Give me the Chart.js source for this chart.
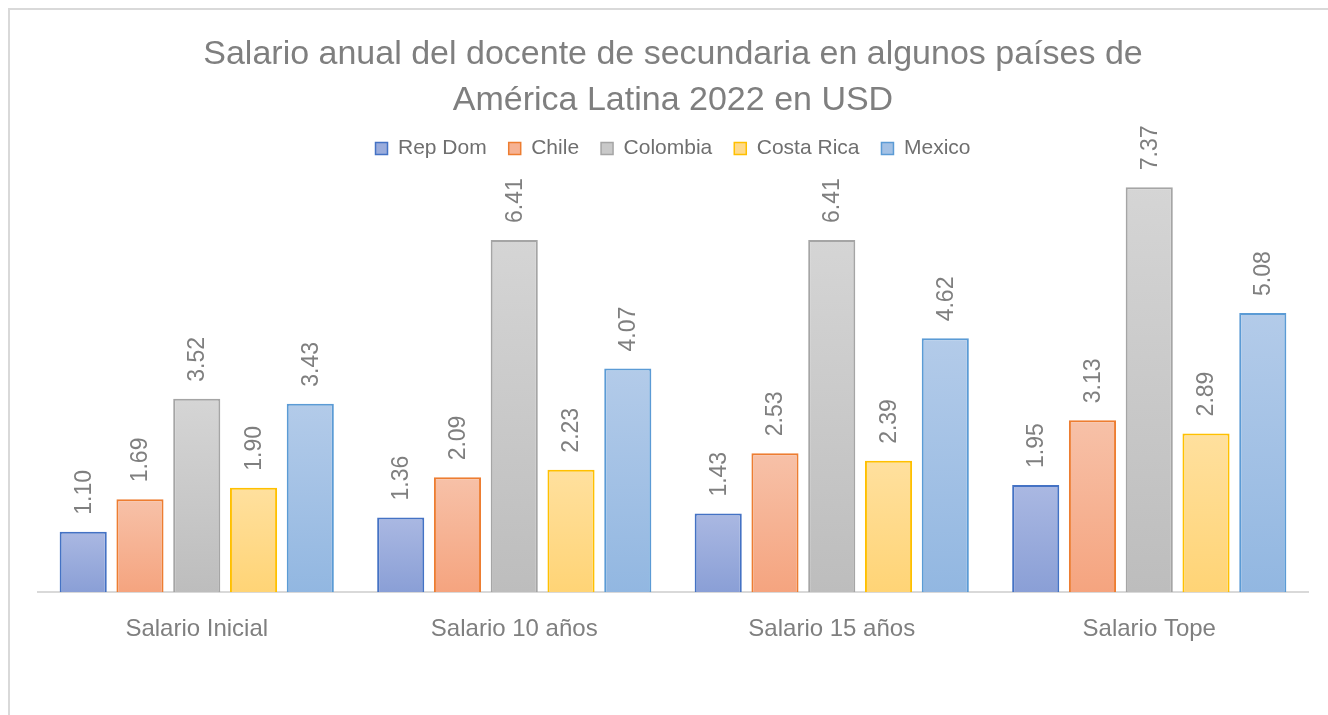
<!DOCTYPE html>
<html>
<head>
<meta charset="utf-8">
<script src="https://cdn.jsdelivr.net/npm/chart.js@4"></script>
<style>
html,body{margin:0;padding:0;background:#fff;}
#wrap{position:relative;width:1328px;height:715px;}
canvas{display:block;}
</style>
</head>
<body>
<div id="wrap"><canvas id="c" width="1328" height="715"></canvas></div>
<script>
const categories = ["Salario Inicial", "Salario 10 años", "Salario 15 años", "Salario Tope"];
const seriesNames = ["Rep Dom", "Chile", "Colombia", "Costa Rica", "Mexico"];
const repDom    = [1.10, 1.36, 1.43, 1.95];
const chile     = [1.69, 2.09, 2.53, 3.13];
const colombia  = [3.52, 6.41, 6.41, 7.37];
const costaRica = [1.90, 2.23, 2.39, 2.89];
const mexico    = [3.43, 4.07, 4.62, 5.08];
const titleLines = ["Salario anual del docente de secundaria en algunos países de", "América Latina 2022 en USD"];

const seriesValues = [repDom, chile, colombia, costaRica, mexico];
const styles = [
  {top:"#aab8e2", bottom:"#8a9fd6", border:"#4472c4", legend:"#9aacdc"},
  {top:"#f7c1a8", bottom:"#f5a47f", border:"#ed7d31", legend:"#f6b293"},
  {top:"#d5d5d5", bottom:"#bdbdbd", border:"#a5a5a5", legend:"#c9c9c9"},
  {top:"#ffe09e", bottom:"#ffd476", border:"#ffc000", legend:"#ffda8a"},
  {top:"#b3cbe9", bottom:"#92b7e1", border:"#5b9bd5", legend:"#a3c1e5"}
];
const PX_PER_UNIT = 54.95;
const TEXT = "#7f7f7f";

function gradFor(i) {
  return function(ctx) {
    const chart = ctx.chart;
    const st = styles[i];
    if (!chart.chartArea || ctx.type !== 'data') return st.legend;
    const ys = chart.scales.y;
    const yTop = ys.getPixelForValue(ctx.raw);
    const yBot = ys.getPixelForValue(0);
    if (!isFinite(yTop) || !isFinite(yBot) || yTop === yBot) return st.legend;
    const g = chart.ctx.createLinearGradient(0, yTop, 0, yBot);
    g.addColorStop(0, st.top);
    g.addColorStop(1, st.bottom);
    return g;
  };
}

const datasets = seriesNames.map((name, i) => ({
  label: name,
  data: seriesValues[i],
  backgroundColor: gradFor(i),
  borderColor: styles[i].border,
  borderWidth: 2,
  borderSkipped: 'start',
  categoryPercentage: 0.894,
  barPercentage: 0.83
}));

const framePlugin = {
  id: 'frame',
  beforeDraw(chart) {
    const c = chart.ctx;
    c.save();
    c.strokeStyle = "#d9d9d9";
    c.lineWidth = 2;
    c.beginPath();
    c.moveTo(9, 715);
    c.lineTo(9, 9);
    c.lineTo(1328, 9);
    c.stroke();
    c.restore();
  }
};

const labelPlugin = {
  id: 'vlabels',
  afterDatasetsDraw(chart) {
    const c = chart.ctx;
    c.save();
    c.fillStyle = TEXT;
    c.font = "23px 'Liberation Sans', Arial, sans-serif";
    c.textAlign = 'left';
    c.textBaseline = 'middle';
    chart.data.datasets.forEach((ds, di) => {
      const meta = chart.getDatasetMeta(di);
      meta.data.forEach((bar, j) => {
        c.save();
        c.translate(bar.x, bar.y - 17);
        c.rotate(-Math.PI / 2);
        c.fillText(ds.data[j].toFixed(2), 0, 1);
        c.restore();
      });
    });
    c.restore();
  }
};

const chart = new Chart(document.getElementById('c'), {
  type: 'bar',
  data: { labels: categories, datasets },
  plugins: [framePlugin, labelPlugin],
  options: {
    responsive: false,
    animation: false,
    devicePixelRatio: 1,
    layout: { padding: { left: 38, right: 20, top: 0, bottom: 48 } },
    plugins: {
      title: {
        display: true,
        text: titleLines,
        color: TEXT,
        font: { family: "'Liberation Sans', Arial, sans-serif", size: 34, weight: 'normal', lineHeight: 46/34 },
        padding: { top: 32, bottom: -8 }
      },
      legend: {
        display: true,
        position: 'top',
        labels: {
          color: "#6f6f6f",
          font: { family: "'Liberation Sans', Arial, sans-serif", size: 21 },
          boxWidth: 12,
          boxHeight: 12,
          padding: 22,
          generateLabels(chart) {
            return chart.data.datasets.map((ds, i) => ({
              text: ds.label,
              fillStyle: styles[i].legend,
              strokeStyle: styles[i].border,
              lineWidth: 1.5,
              fontColor: "#6f6f6f",
              hidden: false,
              datasetIndex: i
            }));
          }
        }
      },
      tooltip: { enabled: false }
    },
    scales: {
      x: {
        grid: { display: false, drawTicks: false },
        border: { display: true, color: "#d9d9d9", width: 2 },
        ticks: {
          color: TEXT,
          padding: 23,
          font: { family: "'Liberation Sans', Arial, sans-serif", size: 24 }
        }
      },
      y: {
        display: false,
        min: 0,
        max: 8
      }
    }
  }
});
const area = chart.chartArea;
chart.options.scales.y.max = (area.bottom - area.top) / PX_PER_UNIT;
chart.update();
</script>
</body>
</html>
